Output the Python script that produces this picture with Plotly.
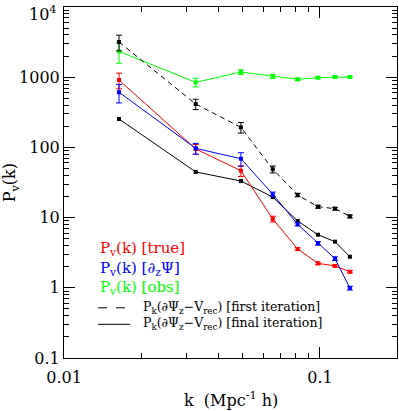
import plotly.graph_objects as go

# wavenumbers (Mpc^-1 h)
k = [0.0164, 0.0327, 0.0491, 0.0654, 0.0818, 0.0982, 0.1145, 0.1309]

# P_v(k) true (red)
p_true = [912, 95, 46.6, 9.55, 3.57, 2.23, 2.05, 1.69]
e_true = [230, 15, 8, 0.9, 0.15, 0.1, 0.08, 0.06]

# P_v(k) from d_z Psi (blue)
p_psi = [610, 97, 69, 21.5, 8.03, 4.3, 2.6, 0.99]
e_psi = [180, 17, 15, 1.6, 0.4, 0.25, 0.15, 0.06]

# P_v(k) observed (green)
p_obs = [2330, 845, 1186, 1030, 933, 984, 1006, 1006]
e_obs = [750, 120, 90, 70, 40, 30, 30, 30]

# P_k(dPsi_z - V_rec), first iteration (black dashed)
p_first = [3170, 415, 193, 48.8, 21, 14.3, 13.4, 10.4]
e_first = [800, 70, 33, 5.5, 1.2, 0.7, 0.6, 0.5]

# P_k(dPsi_z - V_rec), final iteration (black solid)
p_final = [254, 44.7, 33.2, 19.6, 8.96, 5.7, 4.54, 2.77]

FONT = "DejaVu Serif"

fig = go.Figure()


def add_series(y, err, color, dash="solid"):
    fig.add_trace(
        go.Scatter(
            x=k,
            y=y,
            mode="lines+markers",
            line=dict(color=color, width=1, dash=dash),
            marker=dict(symbol="square", size=4, color=color),
            error_y=dict(
                type="data", array=err, visible=err is not None,
                color=color, thickness=1, width=3,
            ),
            showlegend=False,
        )
    )


add_series(p_obs, e_obs, "#00ff00")
add_series(p_first, e_first, "black", dash="5px,4px")
add_series(p_final, None, "black")
add_series(p_true, e_true, "#ff0000")
add_series(p_psi, e_psi, "#0000ff")

x_minor = [m * 0.01 for m in range(2, 10)] + [m * 0.1 for m in range(2, 10)]
y_minor = [m * 10.0 ** d for d in range(-1, 4) for m in range(2, 10)]

axis_common = dict(
    type="log",
    automargin=False,
    showgrid=False,
    zeroline=False,
    showline=True,
    linecolor="black",
    linewidth=1,
    mirror="allticks",
    ticks="inside",
    ticklen=11,
    tickcolor="black",
    ticklabeloverflow="allow",
    tickfont=dict(family=FONT, size=16, color="black"),
)

fig.update_xaxes(
    **axis_common,
    range=[-2.0002, -0.699],
    tickmode="array",
    tickvals=[0.01, 0.1],
    ticktext=["0.01", "0.1"],
    ticklabelstandoff=5,
    minor=dict(tickmode="array", tickvals=x_minor, ticks="inside", ticklen=5,
               tickcolor="black", showgrid=False),
)
# top label (10^4) drawn separately so it is not clipped by the page edge
fig.update_yaxes(
    **axis_common,
    range=[-1.0002, 4.0002],
    tickmode="array",
    tickvals=[0.1, 1, 10, 100, 1000, 10000],
    ticktext=["0.1", "1", "10", "100", "1000", ""],
    minor=dict(tickmode="array", tickvals=y_minor, ticks="inside", ticklen=5,
               tickcolor="black", showgrid=False),
)
fig.add_annotation(
    x=0, y=1, xref="paper", yref="paper", showarrow=False,
    text="10<sup>4</sup>", xanchor="right", yanchor="top", xshift=-6, yshift=6,
    font=dict(family=FONT, size=16, color="black"),
)

# axis titles
fig.add_annotation(
    x=0.5, y=-0.118, xref="paper", yref="paper", showarrow=False,
    text="k  (Mpc<sup>-1</sup> h)", yanchor="middle",
    font=dict(family=FONT, size=16, color="black"),
)
fig.add_annotation(
    x=-0.16, y=0.5, xref="paper", yref="paper", showarrow=False,
    text="P<sub>v</sub>(k)", textangle=-90, xanchor="center",
    font=dict(family=FONT, size=16, color="black"),
)

# legend as text + line keys
fig.add_annotation(
    x=0.102, y=0.256, xref="paper", yref="paper", showarrow=False,
    xanchor="left", yanchor="middle", align="left",
    text=(
        "<span style='color:#ff0000'>P<sub>v</sub>(k) [true]</span><br>"
        "<span style='color:#0000ff'>P<sub>v</sub>(k) [∂<sub>z</sub>Ψ]</span><br>"
        "<span style='color:#00ff00'>P<sub>v</sub>(k) [obs]</span>"
    ),
    font=dict(family=FONT, size=15, color="black"),
)

fig.add_shape(
    type="line", xref="paper", yref="paper", x0=0.102, x1=0.198, y0=0.143, y1=0.143,
    line=dict(color="black", width=1, dash="dash"),
)
fig.add_shape(
    type="line", xref="paper", yref="paper", x0=0.102, x1=0.198, y0=0.096, y1=0.096,
    line=dict(color="black", width=1, dash="solid"),
)
fig.add_annotation(
    x=0.231, y=0.12, xref="paper", yref="paper", showarrow=False,
    xanchor="left", yanchor="middle", align="left",
    text=(
        "P<sub>k</sub>(∂Ψ<sub>z</sub>−V<sub>rec</sub>) [first iteration]<br>"
        "P<sub>k</sub>(∂Ψ<sub>z</sub>−V<sub>rec</sub>) [final iteration]"
    ),
    font=dict(family=FONT, size=12.5, color="black"),
)

fig.update_layout(
    width=399,
    height=411,
    margin=dict(l=64, r=2, t=7, b=53),
    plot_bgcolor="white",
    paper_bgcolor="white",
    font=dict(family=FONT, color="black"),
)

fig.write_html(
    "out.html",
    config={"displayModeBar": False},
    post_script="document.body.style.margin='0';",
)
